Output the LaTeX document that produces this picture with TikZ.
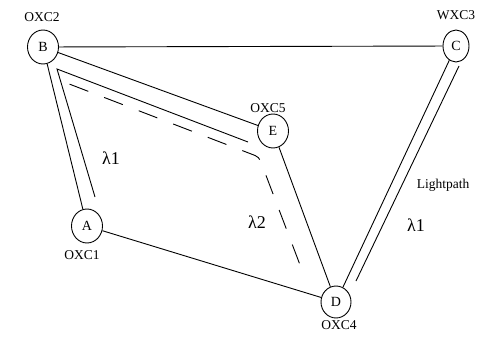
\documentclass[tikz,border=0pt]{standalone}
\usepackage{fontspec}
\setmainfont{Liberation Serif}
\usetikzlibrary{shapes.geometric}
\begin{document}
\begin{tikzpicture}[x=1pt,y=-1pt,
  nd/.style={draw,ellipse,line width=0.9pt,inner sep=0pt,minimum width=31pt,minimum height=34pt,font=\fontsize{14}{14}\selectfont},
  lab/.style={font=\fontsize{13.5}{14}\selectfont},
  lam/.style={font=\fontsize{18}{18}\selectfont},
  ln/.style={line width=0.9pt},
  dsh/.style={line width=0.9pt,dash pattern=on 20pt off 17pt,rounded corners=4pt}]
\useasboundingbox (0,0) rectangle (487,345);
\node[nd] (B) at (43,47) {B};
\node[nd,minimum width=26pt,minimum height=32pt] (C) at (456,46) {C};
\node[nd] (E) at (273,131) {E};
\node[nd] (A) at (87,226) {A};
\node[nd,minimum width=30pt,minimum height=32pt] (D) at (336,302) {D};
\node[lab] (lB) at (42,17) {OXC2};
\node[lab] (lC) at (456,15) {WXC3};
\node[lab] (lE) at (268,108) {OXC5};
\node[lab] (lA) at (82,255) {OXC1};
\node[lab] (lD) at (339,325) {OXC4};
\node[lab] (lp) at (443,185) {Lightpath};
\node[lam] (l1) at (111,158) {λ1};
\node[lam] (l2) at (257,222) {λ2};
\node[lam] (l3) at (416,225) {λ1};
\draw[ln] (B) -- (C);
\draw[ln] (B) -- (E);
\draw[ln] (B) -- (A);
\draw[ln] (A) -- (D);
\draw[ln] (E) -- (D);
\draw[ln] (C) -- (D);
\coordinate (i1) at (95,197);
\coordinate (i2) at (57,69);
\coordinate (i3) at (248,142);
\draw[ln] (i1) -- (i2) -- (i3);
\coordinate (c1) at (459,66);
\coordinate (c2) at (356,281);
\draw[ln] (c1) -- (c2);
\coordinate (d1) at (64,82);
\coordinate (d2) at (259,157);
\coordinate (d3) at (305,278);
\draw[dsh,dash phase=-6pt] (d1) -- (d2) -- (d3);
\end{tikzpicture}
\end{document}
